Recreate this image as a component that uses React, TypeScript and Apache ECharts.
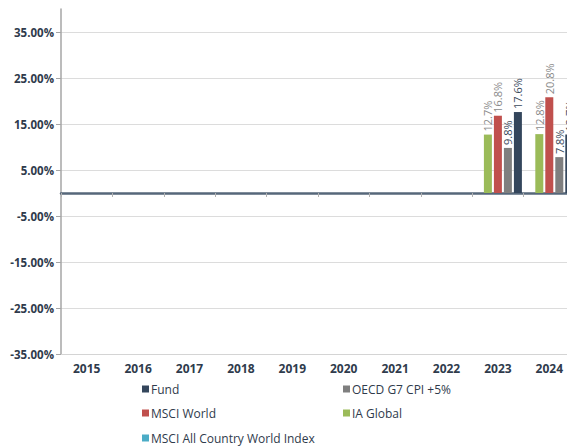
import React, { useEffect, useRef } from "react";
import * as echarts from "echarts";

const years = ["2015", "2016", "2017", "2018", "2019", "2020", "2021", "2022", "2023", "2024"];
const acwi: (number | null)[] = [null, null, null, null, null, null, null, null, null, null];
const iaGlobal: (number | null)[] = [null, null, null, null, null, null, null, null, 12.7, 12.8];
const msciWorld: (number | null)[] = [null, null, null, null, null, null, null, null, 16.8, 20.8];
const oecd: (number | null)[] = [null, null, null, null, null, null, null, null, 9.8, 7.8];
const fund: (number | null)[] = [null, null, null, null, null, null, null, null, 17.6, 12.7];

const FONT = "Open Sans";

export default function App() {
  const ref = useRef<HTMLDivElement>(null);
  useEffect(() => {
    if (!ref.current) return;
    const chart = echarts.init(ref.current, undefined, { renderer: "svg" });
    const mkSeries = (name: string, data: (number | null)[], color: string, labelColor: string) => ({
      name,
      type: "bar",
      xAxisIndex: 0,
      data,
      barWidth: 8,
      barGap: "25%",
      itemStyle: { color },
      label: {
        show: true,
        position: "top",
        rotate: 90,
        align: "left",
        verticalAlign: "middle",
        distance: 3,
        formatter: (p: any) => (p.value == null ? "" : p.value + "%"),
        color: labelColor,
        fontFamily: FONT,
        fontSize: 11,
      },
    });
    const legendItem = (name: string, left: number, top: number) => ({
      data: [name],
      left,
      top,
      orient: "horizontal",
      icon: "rect",
      itemWidth: 7,
      itemHeight: 7,
      padding: 0,
      selectedMode: false,
      textStyle: { fontFamily: FONT, fontSize: 12, color: "#2f3b4c", padding: [0, 0, 0, -3] },
    });
    chart.setOption({
      animation: false,
      grid: { left: 61, top: 9, bottom: 92, right: 5, containLabel: false },
      legend: [
        legendItem("Fund", 142, 383),
        legendItem("OECD G7 CPI +5%", 343, 383),
        legendItem("MSCI World", 142, 407),
        legendItem("IA Global", 343, 407),
        legendItem("MSCI All Country World Index", 142, 432),
      ],
      xAxis: [
        {
          type: "category",
          data: years,
          position: "bottom",
          axisLine: { onZero: false, lineStyle: { color: "#d4d4d4", width: 1 } },
          axisTick: { show: false },
          axisLabel: {
            color: "#2f3b4c",
            fontFamily: FONT,
            fontWeight: "bold",
            fontSize: 12,
            margin: 8,
          },
          splitLine: { show: false },
        },
        {
          type: "category",
          data: years,
          position: "bottom",
          axisLine: { onZero: true, lineStyle: { color: "#56677a", width: 2.5 } },
          axisTick: { show: true, length: 4, lineStyle: { color: "#b0b0b0" } },
          axisLabel: { show: false },
          splitLine: { show: false },
        },
      ],
      yAxis: {
        type: "value",
        min: -35,
        max: 40,
        interval: 10,
        axisLine: { show: true, lineStyle: { color: "#a6a6a6", width: 1.5 } },
        axisTick: { show: true, length: 5, lineStyle: { color: "#a6a6a6" } },
        axisLabel: {
          showMaxLabel: false,
          formatter: (v: number) => v.toFixed(2) + "%",
          color: "#2f3b4c",
          fontFamily: FONT,
          fontWeight: "bold",
          fontSize: 11.5,
          margin: 7,
        },
        splitLine: {
          show: true,
          lineStyle: {
            color: ["#dcdcdc", "#dcdcdc", "#dcdcdc", "#dcdcdc", "#dcdcdc", "#dcdcdc", "#dcdcdc", "#dcdcdc", "rgba(0,0,0,0)"],
            width: 1,
          },
        },
      },
      series: [
        mkSeries("MSCI All Country World Index", acwi, "#4bacc6", "#8a8a8a"),
        mkSeries("IA Global", iaGlobal, "#9bbb59", "#8a8a8a"),
        mkSeries("MSCI World", msciWorld, "#c0504d", "#8a8a8a"),
        mkSeries("OECD G7 CPI +5%", oecd, "#7f7f7f", "#3b4a5c"),
        mkSeries("Fund", fund, "#34465c", "#3b4a5c"),
      ],
    });
    return () => chart.dispose();
  }, []);
  return (
    <div style={{ position: "fixed", left: 0, top: 0, width: 567, height: 446, overflow: "hidden", background: "#fff" }}>
      <div ref={ref} style={{ width: 580, height: 446 }} />
    </div>
  );
}
